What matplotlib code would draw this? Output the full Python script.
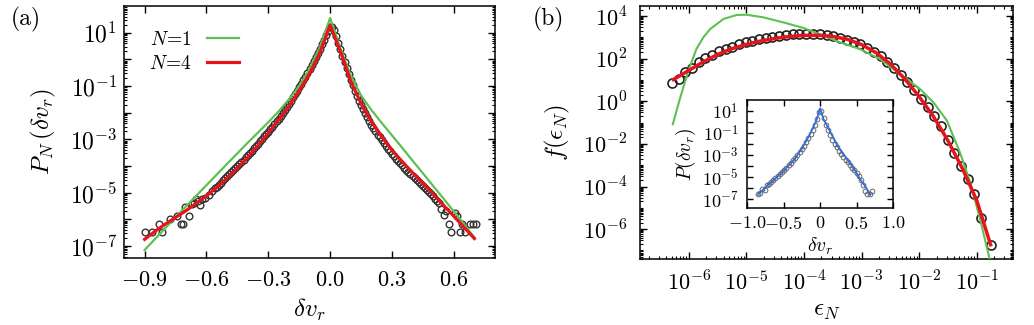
import numpy as np
import matplotlib
matplotlib.use('Agg')
import matplotlib.pyplot as plt
from matplotlib.ticker import FixedLocator, FuncFormatter, LogLocator, NullFormatter, FixedFormatter

plt.rcParams.update({
    'font.family': 'serif',
    'font.serif': ['cmr10'],
    'mathtext.fontset': 'cm',
    'axes.unicode_minus': False,
    'axes.linewidth': 1.1,
    'xtick.direction': 'in',
    'ytick.direction': 'in',
    'xtick.top': True,
    'ytick.right': True,
    'xtick.major.size': 5,
    'ytick.major.size': 5,
    'xtick.minor.size': 2.5,
    'ytick.minor.size': 2.5,
    'xtick.major.width': 1.0,
    'ytick.major.width': 1.0,
    'xtick.minor.width': 0.8,
    'ytick.minor.width': 0.8,
})

GREEN = '#5cc052'
RED = '#e8141c'
BLUE = '#2f6ee0'

# ---- panel (a): P_N(dv_r), values as log10 ----
# sparse tails (count-limited bins) and a dense core
tail_left_dv = [-0.897, -0.862, -0.829, -0.817, -0.776, -0.744, -0.724, -0.715, -0.706,
                -0.687, -0.671, -0.660, -0.650, -0.640, -0.630, -0.620, -0.606, -0.590,
                -0.574]
tail_left_logp = [-6.48, -6.48, -6.19, -6.48, -5.98, -5.88, -6.19, -6.19, -5.53,
                  -5.88, -5.44, -5.40, -5.25, -5.30, -5.48, -5.25, -5.19, -5.10,
                  -4.94]

core_dv = np.round(np.arange(-0.56, 0.521, 0.01), 2)
core_logp = [
    -4.84, -4.78, -4.72, -4.62, -4.52, -4.45, -4.36, -4.30, -4.22, -4.14,
    -4.07, -3.99, -3.91, -3.84, -3.76, -3.68, -3.59, -3.51, -3.42, -3.34,
    -3.25, -3.16, -3.07, -2.98, -2.89, -2.80, -2.71, -2.62, -2.52, -2.42,
    -2.32, -2.22, -2.12, -2.01, -1.90, -1.79, -1.67, -1.55, -1.43, -1.31,
    -1.18, -1.05, -0.92, -0.79, -0.66, -0.52, -0.38, -0.23, -0.08, 0.08,
    0.24, 0.40, 0.56, 0.73, 0.90, 1.06,
    1.20, 1.22, 1.10, 0.86, 0.62, 0.38, 0.14, -0.09, -0.32, -0.55,
    -0.78, -0.98, -1.18, -1.37, -1.55, -1.72, -1.88, -2.03, -2.18, -2.32,
    -2.45, -2.58, -2.70, -2.82, -2.93, -3.04, -3.15, -3.25, -3.35, -3.45,
    -3.55, -3.64, -3.73, -3.82, -3.90, -3.98, -4.07, -4.15, -4.23, -4.31,
    -4.38, -4.46, -4.53, -4.61, -4.68, -4.76, -4.83, -4.91, -4.98, -5.06,
    -5.14, -5.22, -5.30,
]

tail_right_dv = [0.530, 0.540, 0.552, 0.563, 0.575, 0.585, 0.604, 0.617, 0.629,
                 0.640, 0.653, 0.677, 0.693, 0.710]
tail_right_logp = [-5.40, -5.63, -5.82, -5.70, -6.17, -6.46, -5.78, -5.88, -6.46,
                   -6.17, -6.46, -6.17, -6.17, -6.17]

dv_n4 = [-0.90, -0.85, -0.80, -0.75, -0.70, -0.65, -0.60, -0.55, -0.50, -0.45,
         -0.40, -0.35, -0.30, -0.25, -0.20, -0.15, -0.10, -0.05, 0.00, 0.05,
         0.10, 0.15, 0.20, 0.25, 0.30, 0.35, 0.40, 0.45, 0.50, 0.55,
         0.60, 0.65, 0.70]
logp_n4 = [-6.75, -6.45, -6.18, -5.93, -5.68, -5.40, -5.12, -4.80, -4.46, -4.08,
           -3.67, -3.23, -2.76, -2.28, -1.76, -1.18, -0.54, 0.24, 1.28, 0.30,
           -0.82, -1.65, -2.32, -2.90, -3.40, -3.84, -4.25, -4.65, -5.05, -5.47,
           -5.88, -6.30, -6.72]

dv_n1 = [-0.90, -0.80, -0.70, -0.60, -0.50, -0.40, -0.30, -0.25, -0.20, -0.15,
         -0.10, -0.05, 0.00, 0.05, 0.10, 0.15, 0.20, 0.25, 0.30, 0.35,
         0.40, 0.45, 0.50, 0.55, 0.60, 0.65, 0.70]
logp_n1 = [-7.15, -6.33, -5.52, -4.72, -3.92, -3.13, -2.36, -1.95, -1.50, -1.00,
           -0.36, 0.45, 1.55, 0.40, -0.60, -1.35, -1.90, -2.38, -2.85, -3.32,
           -3.80, -4.27, -4.75, -5.22, -5.70, -6.18, -6.68]

# ---- panel (b): f(eps_N), values as log10 ----
logeps_data = [-6.30, -6.18, -6.07, -5.95, -5.83, -5.72, -5.60, -5.48, -5.36, -5.25,
               -5.13, -5.01, -4.90, -4.78, -4.66, -4.55, -4.43, -4.31, -4.19, -4.08,
               -3.96, -3.84, -3.73, -3.61, -3.49, -3.38, -3.26, -3.14, -3.02, -2.91,
               -2.79, -2.67, -2.56, -2.44, -2.32, -2.21, -2.09, -1.97, -1.85, -1.74,
               -1.62, -1.50, -1.39, -1.27, -1.15, -1.04, -0.92, -0.75]
logf_data = [0.85, 1.04, 1.38, 1.58, 1.82, 2.01, 2.16, 2.34, 2.45, 2.56,
             2.67, 2.76, 2.84, 2.92, 2.97, 3.03, 3.07, 3.11, 3.14, 3.16,
             3.17, 3.16, 3.14, 3.10, 3.04, 2.97, 2.89, 2.79, 2.67, 2.52,
             2.32, 2.12, 1.86, 1.56, 1.24, 0.90, 0.52, 0.12, -0.28, -0.70,
             -1.18, -1.82, -2.41, -3.04, -3.67, -4.33, -5.49, -6.73]

logeps_n4 = [-6.27, -6.00, -5.75, -5.50, -5.25, -5.00, -4.75, -4.50, -4.25, -4.00,
             -3.75, -3.50, -3.25, -3.00, -2.75, -2.50, -2.25, -2.00, -1.75, -1.50,
             -1.25, -1.00, -0.76]
logf_n4 = [1.02, 1.45, 1.85, 2.20, 2.47, 2.67, 2.83, 2.95, 3.04, 3.09,
           3.10, 3.04, 2.91, 2.66, 2.28, 1.75, 1.05, 0.22, -0.72, -1.85,
           -3.15, -4.65, -6.73]

logeps_n1 = [-6.28, -6.16, -6.01, -5.87, -5.75, -5.63, -5.40, -5.17, -5.00, -4.71,
             -4.36, -4.01, -3.66, -3.37, -3.03, -2.68, -2.45, -2.21, -1.98, -1.75,
             -1.52, -1.29, -1.11, -0.94, -0.78]
logf_n1 = [-1.08, 0.09, 1.43, 2.45, 3.00, 3.39, 3.86, 4.05, 4.06, 3.94,
           3.70, 3.44, 3.07, 2.76, 2.45, 1.98, 1.51, 1.04, 0.56, -0.06,
           -0.90, -2.41, -3.83, -5.55, -7.36]

# ---- inset: P(dv_r) ----
inset_bins = np.round(np.arange(-0.85, 0.711, 0.03), 2)
inset_logp = [
    -6.55, -6.45, -6.10, -6.20, -5.75, -5.65, -5.45, -5.25, -5.10, -4.92,
    -4.72, -4.55, -4.35, -4.15, -3.93, -3.72, -3.50, -3.28, -3.03, -2.78,
    -2.50, -2.20, -1.88, -1.52, -1.13, -0.72, -0.27, 0.25, 0.90, 0.95,
    0.30, -0.30, -0.80, -1.25, -1.65, -2.00, -2.33, -2.63, -2.92, -3.18,
    -3.43, -3.68, -3.92, -4.15, -4.40, -4.65, -4.90, -5.25, -5.75, -6.25,
    -6.55, -6.55, -6.25,
]
inset_fit_x = [-0.85, -0.75, -0.65, -0.55, -0.45, -0.35, -0.25, -0.15, -0.05, 0.00,
               0.05, 0.15, 0.25, 0.35, 0.45, 0.55, 0.62, 0.69]
inset_fit_logp = [-6.60, -5.95, -5.35, -4.75, -4.10, -3.40, -2.45, -1.30, 0.10, 1.20,
                  0.20, -1.05, -2.30, -3.20, -4.10, -5.20, -5.85, -6.60]

W, H = 1034, 325
fig = plt.figure(figsize=(W / 100, H / 100), dpi=100)
ax1 = fig.add_axes([124 / W, 67 / H, 371 / W, 252 / H])
ax2 = fig.add_axes([640 / W, 66 / H, 373 / W, 253 / H])
ins = fig.add_axes([747 / W, 117 / H, 146 / W, 108 / H])


def pw(v):
    return 10.0 ** np.asarray(v)


def odd_decades(v, p):
    e = int(round(np.log10(v)))
    return r'$10^{%d}$' % e if e % 2 else ''


def decades(v, p):
    return r'$10^{%d}$' % int(round(np.log10(v)))


# panel (a)
dv_all = np.concatenate([tail_left_dv, core_dv, tail_right_dv])
logp_all = np.concatenate([tail_left_logp, core_logp, tail_right_logp])
ax1.plot(dv_all, pw(logp_all), 'o', ms=4.8, mfc='none', mec='#333333', mew=1.0, zorder=2)
ax1.plot(dv_n1, pw(logp_n1), color=GREEN, lw=1.6, label=r'$N\!=\!1$', zorder=3)
ax1.plot(dv_n4, pw(logp_n4), color=RED, lw=2.3, label=r'$N\!=\!4$', zorder=4)
ax1.set_yscale('log')
ax1.set_xlim(-1.0, 0.8)
ax1.set_ylim(10 ** -7.45, 10 ** 2.0)
ax1.xaxis.set_major_locator(FixedLocator([-0.9, -0.6, -0.3, 0.0, 0.3, 0.6]))
ax1.xaxis.set_major_formatter(FuncFormatter(lambda v, p: r'$%.1f$' % (round(v, 1) + 0.0)))
ax1.yaxis.set_major_locator(FixedLocator([10.0 ** e for e in range(-7, 2)]))
ax1.yaxis.set_major_formatter(FuncFormatter(odd_decades))
ax1.yaxis.set_minor_locator(LogLocator(base=10, subs=np.arange(2, 10), numticks=100))
ax1.yaxis.set_minor_formatter(NullFormatter())
ax1.tick_params(axis='x', labelsize=16, pad=9)
ax1.tick_params(axis='y', labelsize=17, pad=5)
ax1.set_xlabel(r'$\delta v_r$', fontsize=18, labelpad=5)
ax1.set_ylabel(r'$P_N\,(\delta v_r)$', fontsize=18, labelpad=8)
ax1.legend(loc='upper left', frameon=False, markerfirst=False, fontsize=14,
           handlelength=1.6, handletextpad=0.8, labelspacing=0.3,
           bbox_to_anchor=(0.02, 0.97))

# panel (b)
ax2.plot(pw(logeps_data), pw(logf_data), 'o', ms=6.5, mfc='none', mec='#222222', mew=1.2, zorder=2)
ax2.plot(pw(logeps_n1), pw(logf_n1), color=GREEN, lw=1.5, zorder=3)
ax2.plot(pw(logeps_n4), pw(logf_n4), color=RED, lw=2.5, zorder=4)
ax2.set_xscale('log')
ax2.set_yscale('log')
ax2.set_xlim(10 ** -6.85, 10 ** -0.37)
ax2.set_ylim(10 ** -7.4, 10 ** 4.47)
ax2.xaxis.set_major_locator(FixedLocator([10.0 ** e for e in range(-6, 0)]))
ax2.xaxis.set_major_formatter(FuncFormatter(decades))
ax2.xaxis.set_minor_locator(LogLocator(base=10, subs=np.arange(2, 10), numticks=100))
ax2.xaxis.set_minor_formatter(NullFormatter())
ax2.yaxis.set_major_locator(FixedLocator([10.0 ** e for e in range(-6, 5, 2)]))
ax2.yaxis.set_major_formatter(FuncFormatter(decades))
ax2.yaxis.set_minor_locator(LogLocator(base=10, subs=np.arange(1, 10), numticks=100))
ax2.yaxis.set_minor_formatter(NullFormatter())
ax2.tick_params(axis='x', labelsize=16, pad=8)
ax2.tick_params(axis='y', labelsize=16, pad=9)
ax2.set_xlabel(r'$\epsilon_N$', fontsize=18, labelpad=4)
ax2.set_ylabel(r'$f(\epsilon_N)$', fontsize=18, labelpad=8)

# inset
ins.plot(inset_bins, pw(inset_logp), 'o', ms=3.4, mfc='none', mec='#666666', mew=0.7, zorder=2)
ins.plot(inset_fit_x, pw(inset_fit_logp), color=BLUE, lw=1.3, zorder=3)
ins.set_yscale('log')
ins.set_xlim(-1.0, 1.0)
ins.set_ylim(10 ** -7.8, 10 ** 1.95)
ins.xaxis.set_major_locator(FixedLocator([-1.0, -0.5, 0.0, 0.5, 1.0]))
ins.xaxis.set_major_formatter(FixedFormatter([r'$-1.0$', r'$-0.5$', r'$0$', r'$0.5$', r'$1.0$']))
ins.yaxis.set_major_locator(FixedLocator([10.0 ** e for e in range(-7, 2)]))
ins.yaxis.set_major_formatter(FuncFormatter(odd_decades))
ins.yaxis.set_minor_locator(FixedLocator([]))
ins.tick_params(axis='y', labelsize=13, pad=6, length=4)
ins.tick_params(axis='x', labelsize=13, pad=5, length=4)
ins.set_xlabel(r'$\delta v_r$', fontsize=14, labelpad=3)
ins.set_ylabel(r'$P(\delta v_r)$', fontsize=14, labelpad=3)

fig.text(11 / W, 0.94, '(a)', fontsize=17, va='center', ha='left')
fig.text(533 / W, 0.94, '(b)', fontsize=17, va='center', ha='left')

fig.savefig('out.png', dpi=100)
